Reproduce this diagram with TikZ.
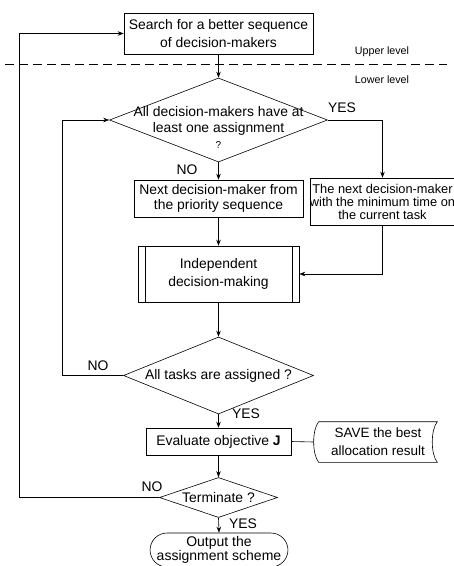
\documentclass[tikz,border=0pt]{standalone}
\usepackage{fontspec}
\setmainfont{Liberation Sans}
\usepackage{tikz}
\usetikzlibrary{positioning, arrows.meta, calc, shapes.geometric, shapes.misc}
\newcommand{\flowfont}{\fontsize{13.9}{18}\selectfont}
\newcommand{\levelfont}{\fontsize{10.7}{13}\selectfont}

\begin{document}
\begin{tikzpicture}[x=1pt, y=1pt, line width=0.6pt,
    every node/.style={font=\flowfont},
    box/.style={draw, rectangle, align=center, inner sep=0pt},
    decision/.style={draw, diamond, inner sep=0pt},
    decisiontext/.style={align=center, inner sep=0pt},
    flowline/.style={-{Stealth[length=6pt, width=4.5pt]}},
    answer/.style={inner sep=0pt}]
  \useasboundingbox (0,0) rectangle (454,-566);
  % Upper level
  \node[box, minimum width=189pt, minimum height=41pt] (search) at (218.5,-33.5)
    {Search for a better sequence\\of decision-makers};
  \draw[dash pattern=on 9pt off 5pt] (5,-64) -- (447,-64);
  \node[font=\levelfont] (upper) at (382,-52) {Upper level};
  \node[font=\levelfont] (lower) at (382,-80) {Lower level};
  % Lower level: first decision
  \node[decision, minimum width=218pt, minimum height=84pt] (dec1) at (218.5,-120) {};
  \node[decisiontext, font=\fontsize{13.9}{16}\selectfont] (dec1txt) at (218.5,-127)
    {All decision-makers have at\\least one assignment\\{\fontsize{10}{12}\selectfont ?}};
  \node[box, minimum width=169pt, minimum height=37pt, font=\fontsize{13.9}{15}\selectfont]
    (nextdm) at (218.5,-198.5) {Next decision-maker from\\the priority sequence};
  \node[box, minimum width=143pt, minimum height=47pt, font=\fontsize{12.8}{13}\selectfont]
    (mintime) at (382.5,-201.5) {The next decision-maker\\with the minimum time on\\the current task};
  % Predefined process
  \node[box, minimum width=161pt, minimum height=56pt] (indep) at (218.5,-274)
    {Independent\\decision-making};
  \draw ($(indep.north west)+(8,0)$) -- ($(indep.south west)+(8,0)$);
  \draw ($(indep.north east)+(-7,0)$) -- ($(indep.south east)+(-7,0)$);
  % Second decision
  \node[decision, minimum width=190pt, minimum height=77pt] (dec2) at (218.5,-375.5) {};
  \node[decisiontext] (dec2txt) at (dec2) {All tasks are assigned ?};
  \node[box, minimum width=145pt, minimum height=27pt] (eval) at (218.5,-441.5)
    {Evaluate objective \textbf{J}};
  % Stored data
  \node[align=center, inner sep=0pt, minimum width=118pt, minimum height=40pt,
        font=\fontsize{13.5}{18}\selectfont] (save) at (378,-442)
    {SAVE the best\\allocation result};
  \draw (save.north west) -- (save.north east)
        .. controls ($(save.north east)+(-6.7,-8)$) and ($(save.south east)+(-6.7,8)$) .. (save.south east)
        -- (save.south west)
        .. controls ($(save.south west)+(-6.7,8)$) and ($(save.north west)+(-6.7,-8)$) .. (save.north west);
  \coordinate (savein) at ($(save.west)+(-5,0)$);
  % Termination
  \node[decision, minimum width=118pt, minimum height=40pt] (dec3) at (218.5,-497.5) {};
  \node[decisiontext] (dec3txt) at (dec3) {Terminate ?};
  \node[draw, rounded rectangle, align=center, inner sep=0pt, minimum width=135pt,
        minimum height=34pt, font=\fontsize{14}{14}\selectfont] (output) at (219,-550)
    {Output the\\assignment scheme};
  % Connectors
  \draw[flowline] (search.south) -- (dec1.north);
  \draw[flowline] (dec1.south) -- (nextdm.north);
  \draw[flowline] (dec1.east) -| (mintime.north);
  \draw[flowline] (nextdm.south) -- (indep.north);
  \draw[flowline] (mintime.south) |- (indep.east);
  \draw[flowline] (indep.south) -- (dec2.north);
  \coordinate (loopin) at (62,-375.5);
  \draw[flowline] (dec2.west) -- (loopin) |- (dec1.west);
  \draw[flowline] (dec2.south) -- (eval.north);
  \draw (eval.east) -- (savein);
  \draw[flowline] (eval.south) -- (dec3.north);
  \coordinate (loopout) at (19,-497.5);
  \draw[flowline] (dec3.west) -- (loopout) |- (search.west);
  \draw[flowline] (dec3.south) -- (output.north);
  % Answers
  \node[answer] (yes1) at (342,-108) {YES};
  \node[answer] (no1) at (187,-170) {NO};
  \node[answer] (no2) at (98,-366) {NO};
  \node[answer] (yes2) at (246,-414) {YES};
  \node[answer] (no3) at (152,-487) {NO};
  \node[answer] (yes3) at (243,-524) {YES};
\end{tikzpicture}
\end{document}
